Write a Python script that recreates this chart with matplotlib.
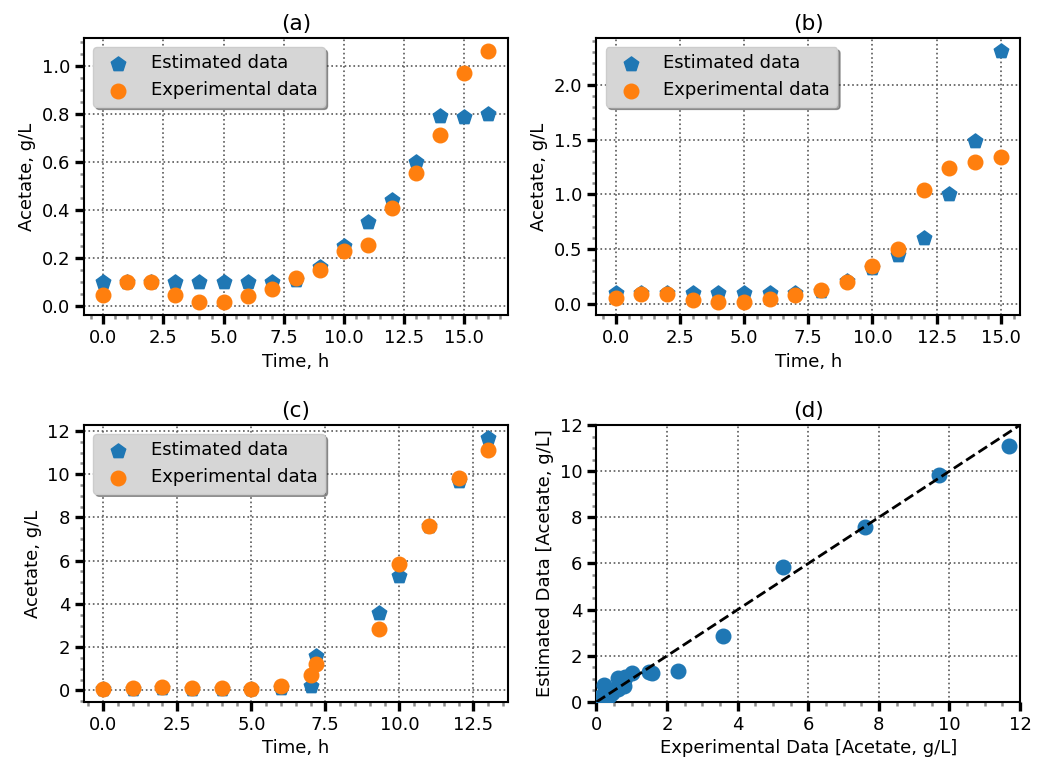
import numpy as np
import matplotlib
matplotlib.use("Agg")
import matplotlib.pyplot as plt
from matplotlib.ticker import AutoMinorLocator, MultipleLocator

# panel (a)
time_a = [0, 1, 2, 3, 4, 5, 6, 7, 8, 9, 10, 11, 12, 13, 14, 15, 16]
est_a = [0.10, 0.10, 0.10, 0.10, 0.10, 0.10, 0.10, 0.10, 0.105, 0.16, 0.25,
         0.35, 0.44, 0.60, 0.79, 0.786, 0.797]
exp_a = [0.045, 0.097, 0.097, 0.046, 0.013, 0.013, 0.038, 0.07, 0.114, 0.149,
         0.228, 0.254, 0.407, 0.553, 0.71, 0.968, 1.062]

# panel (b)
time_b = [0, 1, 2, 3, 4, 5, 6, 7, 8, 9, 10, 11, 12, 13, 14, 15]
est_b = [0.10, 0.10, 0.10, 0.10, 0.10, 0.10, 0.10, 0.10, 0.12, 0.215, 0.334,
         0.445, 0.606, 1.0, 1.49, 2.31]
exp_b = [0.057, 0.097, 0.093, 0.04, 0.018, 0.015, 0.05, 0.08, 0.13, 0.20,
         0.35, 0.503, 1.04, 1.24, 1.30, 1.345]

# panel (c)
time_c = [0, 1, 2, 3, 4, 5, 6, 7.0, 7.2, 9.3, 10, 11, 12, 13]
est_c = [0.05, 0.08, 0.10, 0.08, 0.08, 0.08, 0.10, 0.21, 1.57, 3.58, 5.27,
         7.6, 9.69, 11.69]
exp_c = [0.06, 0.10, 0.17, 0.13, 0.10, 0.08, 0.21, 0.73, 1.24, 2.86, 5.85,
         7.6, 9.82, 11.1]

titles = ["(a)", "(b)", "(c)"]

plt.rcParams['font.size'] = 13


def style_axes(ax):
    ax.xaxis.set_minor_locator(AutoMinorLocator())
    ax.yaxis.set_minor_locator(AutoMinorLocator())
    ax.tick_params(which='major', length=6.5, width=2.4, color='k')
    ax.tick_params(which='minor', length=3.2, width=1.8, color='0.55')
    ax.grid(True, which='major', linestyle=':', color='0.35', linewidth=1.2)
    for sp in ax.spines.values():
        sp.set_linewidth(1.5)


fig, axes = plt.subplots(2, 2, figsize=(10.43, 7.63), dpi=100)
fig.subplots_adjust(left=0.0805, right=0.978, top=0.950, bottom=0.080,
                    wspace=0.21, hspace=0.397)

panels = [(axes[0, 0], time_a, est_a, exp_a),
          (axes[0, 1], time_b, est_b, exp_b),
          (axes[1, 0], time_c, est_c, exp_c)]

for (ax, t, est, exp), title in zip(panels, titles):
    ax.scatter(t, est, marker='p', s=120, color='#1f77b4', label='Estimated data', zorder=3)
    ax.scatter(t, exp, marker='o', s=110, color='#ff7f0e', label='Experimental data', zorder=3)
    ax.set_xlabel("Time, h")
    ax.set_ylabel("Acetate, g/L")
    ax.set_title(title)
    ax.xaxis.set_major_locator(MultipleLocator(2.5))
    style_axes(ax)
    ax.legend(loc='upper left', shadow=True, fancybox=True,
              facecolor='0.84', framealpha=1.0)

# panel (d): estimated vs experimental for all runs
all_est = np.concatenate([est_a, est_b, est_c])
all_exp = np.concatenate([exp_a, exp_b, exp_c])

ax = axes[1, 1]
ax.scatter(all_est, all_exp, marker='o', s=110, color='#1f77b4', zorder=3)
ax.plot([0, 12], [0, 12], 'k--', linewidth=2, zorder=4)
ax.set_xlim(0, 12)
ax.set_ylim(0, 12)
ax.set_xticks(np.arange(0, 13, 2))
ax.set_yticks(np.arange(0, 13, 2))
ax.set_xlabel("Experimental Data [Acetate, g/L]")
ax.set_ylabel("Estimated Data [Acetate, g/L]")
ax.set_title("(d)")
style_axes(ax)

fig.savefig("out.png", dpi=100)
